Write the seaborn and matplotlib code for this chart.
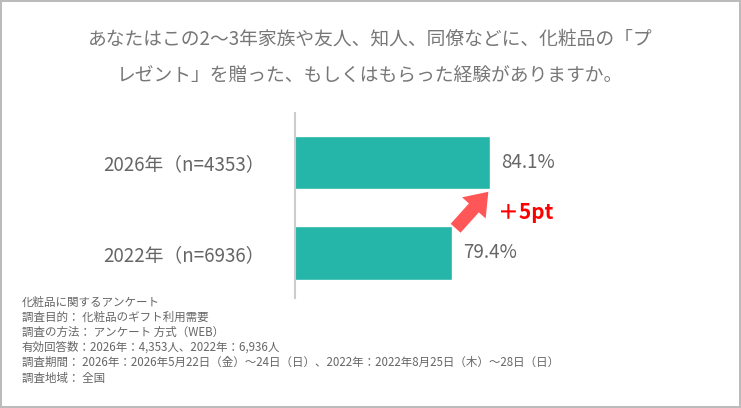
import numpy as np
import matplotlib.pyplot as plt
import pandas as pd
import seaborn as sns

labels = ["2026年（n=4353）", "2022年（n=6936）"]
values = [84.1, 79.4]
value_text = ["84.1%", "79.4%"]
title = "あなたはこの2～3年家族や友人、知人、同僚などに、化粧品の「プ\nレゼント」を贈った、もしくはもらった経験がありますか。"
notes = ["化粧品に関するアンケート",
         "調査目的： 化粧品のギフト利用需要",
         "調査の方法： アンケート 方式（WEB）",
         "有効回答数：2026年：4,353人、2022年：6,936人",
         "調査期間： 2026年：2026年5月22日（金）～24日（日）、2022年：2022年8月25日（木）～28日（日）",
         "調査地域： 全国"]

sns.set_theme(style="white")
plt.rcParams['font.family'] = ['Noto Sans CJK JP', 'DejaVu Sans']

W, H = 741, 408
fig = plt.figure(figsize=(W / 100, H / 100), dpi=100)
fig.patch.set_edgecolor("#bbbbbb")
fig.patch.set_linewidth(1.5)

# axes: x from 295 to 619 px, y from 113 to 298 px
ax = fig.add_axes([295 / W, 1 - 298 / H, 324 / W, 185 / H])
df = pd.DataFrame({"label": labels, "value": values})
sns.barplot(data=df, x="value", y="label", color="#26B5A9", saturation=1, width=0.59, ax=ax)
ax.set_xlim(60, 100)
ax.set_ylim(1.5, -0.55)
ax.set_xlabel("")
ax.set_ylabel("")
ax.set_xticks([])
ax.tick_params(axis="y", length=0, labelsize=13.5, labelcolor="#666666", pad=22)
for s in ["top", "right", "bottom"]:
    ax.spines[s].set_visible(False)
ax.spines["left"].set_color("#cccccc")
ax.spines["left"].set_linewidth(1.5)

for i, (v, t) in enumerate(zip(values, value_text)):
    ax.text(v + 1.3, i, t, va="center", ha="left", fontsize=13.5, color="#666666")

ax.annotate("", xy=(values[0], 0.3), xytext=(values[1] + 0.2, 0.75),
            arrowprops=dict(arrowstyle="simple,head_width=1.9,head_length=1.3,tail_width=0.8",
                            color="#FF5757", lw=0))
ax.text(values[0] + 1.0, 0.55, "＋5pt", color="#FF0000", fontsize=15, fontweight="bold",
        va="center", ha="left")

fig.text(370 / W, 1 - 58 / H, title, ha="center", va="center", fontsize=13.5,
         color="#777777", linespacing=2.0)

for k, line in enumerate(notes):
    fig.text(22 / W, 1 - (302 + k * 15.2) / H, line, fontsize=8.3, color="#666666",
             ha="left", va="center")

fig.savefig("out.png", dpi=100)
